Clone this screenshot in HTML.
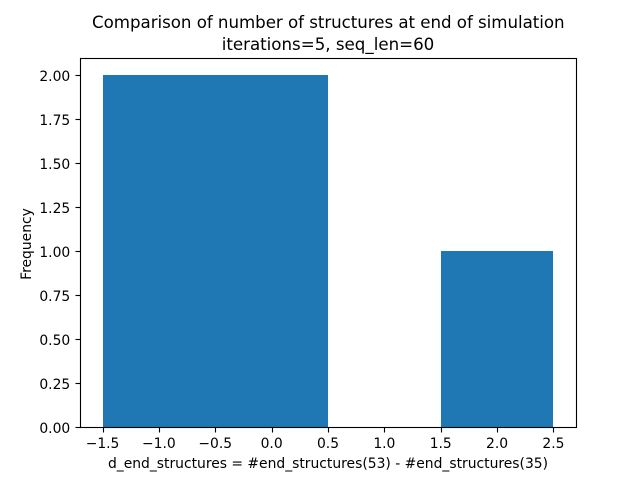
<!DOCTYPE html>
<html>
<head>
<meta charset="utf-8">
<style>
html,body{margin:0;padding:0;background:#fff;}
svg{display:block;}
text{font-family:"DejaVu Sans",sans-serif;fill:#000;}
</style>
</head>
<body>
<svg id="chart" width="640" height="480" viewBox="0 0 640 480" xmlns="http://www.w3.org/2000/svg">
<rect x="0" y="0" width="640" height="480" fill="#ffffff"/>
<g id="bars" shape-rendering="crispEdges"></g>
<g id="xticks"></g>
<g id="yticks"></g>
<rect x="80.5" y="58.5" width="496" height="369" fill="none" stroke="#000" stroke-width="1.11"/>
<text x="328.3" y="28" font-size="16.67" text-anchor="middle" textLength="472.5">Comparison of number of structures at end of simulation</text>
<text x="328" y="50" font-size="16.67" text-anchor="middle">iterations=5, seq_len=60</text>
<text x="328" y="468" font-size="13.89" text-anchor="middle">d_end_structures = #end_structures(53) - #end_structures(35)</text>
<text x="0" y="0" font-size="13.89" text-anchor="middle" transform="translate(31 244) rotate(-90)">Frequency</text>
</svg>
<script>
const binEdges = [-1.5, 0.5, 1.5, 2.5];
const frequencies = [2, 0, 1];
const xTickValues = [-1.5, -1, -0.5, 0, 0.5, 1, 1.5, 2, 2.5];
const xTickLabels = ["\u22121.5", "\u22121.0", "\u22120.5", "0.0", "0.5", "1.0", "1.5", "2.0", "2.5"];
const yTickValues = [0, 0.25, 0.5, 0.75, 1, 1.25, 1.5, 1.75, 2];
const yTickLabels = ["0.00", "0.25", "0.50", "0.75", "1.00", "1.25", "1.50", "1.75", "2.00"];

const NS = "http://www.w3.org/2000/svg";
const axLeft = 80, axRight = 576, axTop = 57.6, axBottom = 427.2;
const xMin = Math.min.apply(null, binEdges), xMax = Math.max.apply(null, binEdges);
const xPad = (xMax - xMin) * 0.05;
const yMaxData = Math.max.apply(null, frequencies) * 1.05;
function xScale(v) {
  return axLeft + (v - (xMin - xPad)) / ((xMax + xPad) - (xMin - xPad)) * (axRight - axLeft);
}
function yScale(v) {
  return axBottom - (v / yMaxData) * (axBottom - axTop);
}
function snap(p) {
  return Math.floor(p + 0.5) + 0.5;
}
function mk(tag, attrs, parent) {
  const el = document.createElementNS(NS, tag);
  for (const k in attrs) el.setAttribute(k, attrs[k]);
  parent.appendChild(el);
  return el;
}
const barsG = document.getElementById("bars");
const barBase = Math.round(yScale(0));
frequencies.forEach(function (f, i) {
  const x0 = Math.round(xScale(binEdges[i])), x1 = Math.round(xScale(binEdges[i + 1]));
  const top = Math.round(yScale(f));
  const r = mk("rect", { x: x0, y: top, width: x1 - x0, height: barBase - top, fill: "#1f77b4" }, barsG);
  
  
});
const xG = document.getElementById("xticks");
xTickValues.forEach(function (v, i) {
  const x = xScale(v);
  const sx = snap(x);
  const t = mk("line", { x1: sx, x2: sx, y1: 427.5, y2: 432.5, stroke: "#000", "stroke-width": 1.11 }, xG);
  
  
  const l = mk("text", { x: x, y: 448, "font-size": 13.89, "text-anchor": "middle" }, xG);
  l.textContent = xTickLabels[i];
  
  
});
const yG = document.getElementById("yticks");
yTickValues.forEach(function (v, i) {
  const y = yScale(v);
  const sy = snap(y);
  const t = mk("line", { x1: 75.5, x2: 80.5, y1: sy, y2: sy, stroke: "#000", "stroke-width": 1.11 }, yG);
  
  
  const l = mk("text", { x: axLeft - 9.72, y: Math.round(y + 5.6), "font-size": 13.89, "text-anchor": "end" }, yG);
  l.textContent = yTickLabels[i];
  
  
});
</script>
</body>
</html>
